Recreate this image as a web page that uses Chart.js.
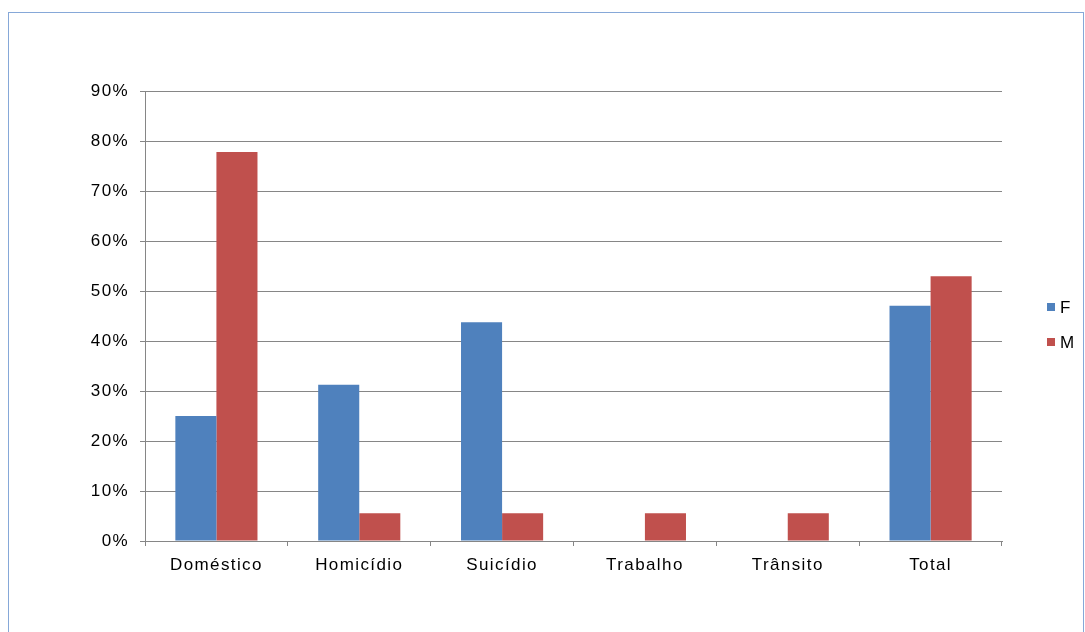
<!DOCTYPE html>
<html>
<head>
<meta charset="utf-8">
<script src="https://cdn.jsdelivr.net/npm/chart.js@4"></script>
<style>
  html, body { margin: 0; padding: 0; background: #fff; overflow: hidden; }
  #frame {
    position: absolute; left: 8px; top: 12px; width: 1074px; height: 640px;
    border: 1px solid #86a8d8;
  }
  #wrap { position: absolute; left: 0; top: 0; width: 1085px; height: 632px; }
</style>
</head>
<body>
<div id="frame"></div>
<div id="wrap"><canvas id="chartTipos" width="1085" height="632"></canvas></div>
<script>
// categorias e percentuais por sexo
const categorias = ["Doméstico", "Homicídio", "Suicídio", "Trabalho", "Trânsito", "Total"];
const valoresF = [25, 31.25, 43.75, 0, 0, 47.06];
const valoresM = [77.78, 5.56, 5.56, 5.56, 5.56, 52.94];
const ticksY = [0, 10, 20, 30, 40, 50, 60, 70, 80, 90];

const corF = "#4F81BD";
const corM = "#C0504D";
const corGrade = "#868686";
const fonte = "'Liberation Sans', Arial, sans-serif";
const espaco = "1.4px";

// texto um pouco espaçado, como no Excel
const espacamento = {
  id: "espacamento",
  beforeLayout(chart) { chart.ctx.letterSpacing = espaco; },
  beforeDraw(chart) { chart.ctx.letterSpacing = espaco; },
};

// legenda desenhada à direita da área do gráfico
const legendaDireita = {
  id: "legendaDireita",
  afterDraw(chart) {
    const ctx = chart.ctx;
    ctx.save();
    ctx.font = "17px " + fonte;
    ctx.textBaseline = "middle";
    chart.data.datasets.forEach((ds, i) => {
      const y = 307 + i * 35;
      ctx.fillStyle = ds.backgroundColor;
      ctx.fillRect(1047, y - 4, 8, 8);
      ctx.fillStyle = "#000";
      ctx.fillText(ds.label, 1060, y + 1);
    });
    ctx.restore();
  },
};

const ctx = document.getElementById("chartTipos").getContext("2d");
new Chart(ctx, {
  type: "bar",
  data: {
    labels: categorias,
    datasets: [
      { label: "F", data: valoresF, backgroundColor: corF, borderWidth: 0 },
      { label: "M", data: valoresM, backgroundColor: corM, borderWidth: 0 },
    ],
  },
  options: {
    responsive: false,
    animation: false,
    devicePixelRatio: 1,
    categoryPercentage: 0.575,
    barPercentage: 1,
    layout: { padding: { left: 0, right: 83, top: 91, bottom: 0 } },
    plugins: { legend: { display: false }, tooltip: { enabled: false } },
    scales: {
      x: {
        offset: true,
        grid: { display: true, drawOnChartArea: false, tickLength: 5, color: corGrade, offset: true },
        border: { color: corGrade, width: 1 },
        ticks: { color: "#000", font: { family: fonte, size: 17 }, padding: 9, maxRotation: 0 },
        afterFit(scale) { scale.height = 91; },
      },
      y: {
        min: 0,
        max: 90,
        afterBuildTicks(scale) { scale.ticks = ticksY.map((v) => ({ value: v })); },
        grid: { color: corGrade, tickLength: 5 },
        border: { color: corGrade, width: 1 },
        ticks: {
          color: "#000",
          font: { family: fonte, size: 17 },
          padding: 11,
          callback: (v) => v + "%",
        },
        afterFit(scale) { scale.width = 145; },
      },
    },
  },
  plugins: [espacamento, legendaDireita],
});
</script>
</body>
</html>
